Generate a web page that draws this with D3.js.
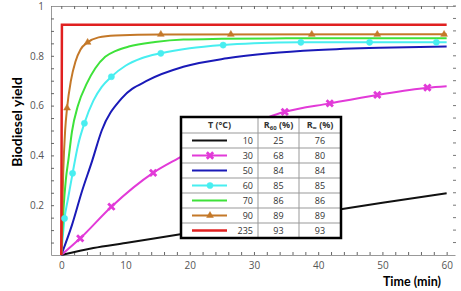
<!DOCTYPE html>
<html>
<head>
<meta charset="utf-8">
<script src="https://cdn.jsdelivr.net/npm/d3@7"></script>
<style>
  body { margin: 0; background: #fff; }
  svg { display: block; }
  .tick text { font-family: "Open Sans", sans-serif; font-size: 10px; fill: #555; }
  .tbl { font-family: "Open Sans", sans-serif; font-size: 9px; fill: #333; }
</style>
</head>
<body>
<svg id="chart" width="461" height="291"></svg>
<script>
// series: [time (min), yield]
var s10 = [[0,0],[5,0.028],[10,0.048],[20,0.089],[30,0.128],[40,0.17],[50,0.21],[60,0.248]];
var s30 = [[0,0],[2.95,0.067],[7.8,0.194],[14.3,0.33],[18.2,0.388],[21.2,0.43],[28,0.51],[34.8,0.575],[41.8,0.609],[49.2,0.643],[57,0.672],[60,0.678]];
var s50 = [[0,0],[1.66,0.12],[3.2,0.254],[4.77,0.375],[6.3,0.5],[9.4,0.629],[13.6,0.703],[19,0.756],[25.8,0.79],[32.5,0.81],[40,0.823],[49.6,0.832],[60,0.837]];
var s60 = [[0,0],[0.51,0.147],[1,0.22],[1.76,0.328],[2.6,0.44],[3.6,0.529],[5,0.62],[6.3,0.675],[7.8,0.716],[10,0.76],[12.5,0.79],[15.5,0.81],[20,0.83],[25.2,0.843],[30,0.85],[37.3,0.854],[48,0.854],[60,0.854]];
var s70 = [[0,0],[0.36,0.19],[0.7,0.3],[1.14,0.388],[1.66,0.495],[2.6,0.6],[4,0.69],[5.3,0.75],[6.84,0.796],[8.5,0.82],[10.5,0.837],[14.6,0.855],[19,0.865],[25,0.868],[35,0.87],[60,0.87]];
var s90 = [[0,0],[0.3,0.33],[0.6,0.5],[0.9,0.59],[1.5,0.7],[2.2,0.776],[3,0.825],[4.1,0.854],[5.8,0.874],[8.4,0.882],[15.5,0.886],[60,0.887]];
var s235 = [[0,0],[0.1,0.925],[60,0.925]];

// marker positions
var m30 = [[2.95,0.067],[7.8,0.194],[14.3,0.33],[21.2,0.43],[28,0.51],[34.8,0.575],[41.8,0.609],[49.2,0.643],[57,0.672]];
var m60 = [[0.51,0.147],[1.76,0.328],[3.6,0.529],[7.8,0.716],[15.5,0.81],[25.2,0.843],[37.3,0.854],[48,0.854],[58.4,0.854]];
var m90 = [[0.9,0.59],[4.1,0.854],[15.5,0.886],[26.4,0.886],[39,0.886],[49.2,0.886],[59.6,0.886]];

// table
var temps = ["10","30","50","60","70","90","235"];
var r60 = ["25","68","84","85","86","89","93"];
var rInf = ["76","80","84","85","86","89","93"];

var colors = {"10":"#111111","30":"#e23ad8","50":"#1a1ab8","60":"#48eef0","70":"#3ee23a","90":"#c47828","235":"#e02020"};
var widths = {"10":2,"30":2,"50":2,"60":2,"70":2,"90":2,"235":2.5};
var seriesBy = {"10":s10,"30":s30,"50":s50,"60":s60,"70":s70,"90":s90,"235":s235};

var svg = d3.select("#chart");

var x = d3.scaleLinear().domain([-1.6, 61.3]).range([51, 455]);
var y = d3.scaleLinear().domain([0, 1]).range([255, 6]);

// axes
var xAxis = d3.axisBottom(x)
    .tickValues(d3.range(0, 61, 2))
    .tickSizeInner(-3).tickSizeOuter(0).tickPadding(7)
    .tickFormat(function(d) { return d % 10 === 0 ? d : ""; });
svg.append("g").attr("transform", "translate(0,255)").call(xAxis);

var yAxis = d3.axisLeft(y)
    .tickValues(d3.range(1, 21).map(function(i) { return i * 0.05; }))
    .tickSizeInner(-3).tickSizeOuter(0).tickPadding(7)
    .tickFormat(function(d) {
        var r = Math.round(d * 100);
        if (r === 100) return "1";
        return r % 20 === 0 ? d3.format(".1f")(d) : "";
    });
svg.append("g").attr("transform", "translate(51,0)").call(yAxis);

var topAxis = d3.axisTop(x)
    .tickValues(d3.range(0, 61, 2))
    .tickSizeInner(-3).tickSizeOuter(0)
    .tickFormat("");
svg.append("g").attr("transform", "translate(0,6)").call(topAxis);

// right side: ticks only
svg.append("g").selectAll("line")
    .data(d3.range(1, 21).map(function(i) { return i * 0.05; }))
    .enter().append("line")
    .attr("x1", 453).attr("x2", 456)
    .attr("y1", function(d) { return y(d); })
    .attr("y2", function(d) { return y(d); })
    .attr("stroke", "#777").attr("stroke-width", 1);

svg.selectAll(".domain").attr("stroke", "#999");
svg.selectAll(".tick line").attr("stroke", "#666");

// curves
var line = d3.line()
    .x(function(d) { return x(d[0]); })
    .y(function(d) { return y(d[1]); })
    .curve(d3.curveMonotoneX);

var order = ["10","30","50","60","70","90","235"];
order.forEach(function(k) {
    svg.append("path")
        .datum(seriesBy[k])
        .attr("fill", "none")
        .attr("stroke", colors[k])
        .attr("stroke-width", widths[k])
        .attr("d", k === "235" ? line.curve(d3.curveLinear)(seriesBy[k]) : line.curve(d3.curveMonotoneX)(seriesBy[k]));
});

var crossSym = d3.symbol().type(d3.symbolX).size(28);
var circSym = d3.symbol().type(d3.symbolCircle).size(30);
var triSym = d3.symbol().type(d3.symbolTriangle).size(20);

function drawMarkers(data, sym, k, stroked) {
    svg.append("g").selectAll("path")
        .data(data).enter().append("path")
        .attr("transform", function(d) { return "translate(" + x(d[0]) + "," + y(d[1]) + ")"; })
        .attr("d", sym())
        .attr("fill", stroked ? "none" : colors[k])
        .attr("stroke", colors[k])
        .attr("stroke-width", stroked ? 2.8 : 0.5);
}
drawMarkers(m30, crossSym, "30", true);
drawMarkers(m60, circSym, "60", false);
drawMarkers(m90, triSym, "90", false);

// axis titles
svg.append("text")
    .attr("transform", "translate(22,122) rotate(-90)")
    .attr("text-anchor", "middle")
    .style("font-family", "Lato, sans-serif")
    .style("font-weight", "bold")
    .style("font-size", "14px")
    .text("Biodiesel yield");

svg.append("text")
    .attr("x", 441).attr("y", 286)
    .attr("text-anchor", "end")
    .style("font-family", "Lato, sans-serif")
    .style("font-weight", "bold")
    .style("font-size", "12.5px")
    .text("Time (min)");

// table legend
var tx0 = 181, tx1 = 341, ty0 = 117, headH = 16, rowH = 15;
var c1 = 258, c2 = 299;
var tbl = svg.append("g");
tbl.append("rect")
    .attr("x", tx0).attr("y", ty0)
    .attr("width", tx1 - tx0).attr("height", headH + rowH * temps.length)
    .attr("fill", "#fff");

// grid lines
for (var i = 0; i < temps.length; i++) {
    var yy = ty0 + headH + rowH * i;
    tbl.append("line").attr("x1", tx0).attr("x2", tx1).attr("y1", yy).attr("y2", yy)
        .attr("stroke", "#999").attr("stroke-width", 1);
}
[c1, c2].forEach(function(cx) {
    tbl.append("line").attr("x1", cx).attr("x2", cx)
        .attr("y1", ty0).attr("y2", ty0 + headH + rowH * temps.length)
        .attr("stroke", "#999").attr("stroke-width", 1);
});
tbl.append("rect")
    .attr("x", tx0).attr("y", ty0)
    .attr("width", tx1 - tx0).attr("height", headH + rowH * temps.length)
    .attr("fill", "none").attr("stroke", "#000").attr("stroke-width", 2.5);

// header
var hy = ty0 + headH / 2 + 3;
tbl.append("text").attr("class", "tbl").attr("x", (tx0 + c1) / 2).attr("y", hy)
    .attr("text-anchor", "middle").style("font-weight", "bold").text("T (°C)");
var h2 = tbl.append("text").attr("class", "tbl").attr("x", (c1 + c2) / 2).attr("y", hy)
    .attr("text-anchor", "middle").style("font-weight", "bold");
h2.append("tspan").text("R");
h2.append("tspan").attr("dy", 2).style("font-size", "6px").text("60");
h2.append("tspan").attr("dy", -2).text(" (%)");
var h3 = tbl.append("text").attr("class", "tbl").attr("x", (c2 + tx1) / 2).attr("y", hy)
    .attr("text-anchor", "middle").style("font-weight", "bold");
h3.append("tspan").text("R");
h3.append("tspan").attr("dy", 2).style("font-size", "6px").text("∞");
h3.append("tspan").attr("dy", -2).text(" (%)");

temps.forEach(function(k, i) {
    var cy = ty0 + headH + rowH * i + rowH / 2;
    tbl.append("line").attr("x1", 192).attr("x2", 227).attr("y1", cy).attr("y2", cy)
        .attr("stroke", colors[k]).attr("stroke-width", widths[k]);
    var sym = k === "30" ? crossSym : k === "60" ? circSym : k === "90" ? triSym : null;
    if (sym) {
        tbl.append("path")
            .attr("transform", "translate(210," + cy + ")")
            .attr("d", sym())
            .attr("fill", k === "30" ? "none" : colors[k])
            .attr("stroke", colors[k])
            .attr("stroke-width", k === "30" ? 2.8 : 0.5);
    }
    tbl.append("text").attr("class", "tbl").attr("x", 253).attr("y", cy + 3.5)
        .attr("text-anchor", "end").text(k);
    tbl.append("text").attr("class", "tbl").attr("x", (c1 + c2) / 2).attr("y", cy + 3.5)
        .attr("text-anchor", "middle").text(r60[i]);
    tbl.append("text").attr("class", "tbl").attr("x", (c2 + tx1) / 2).attr("y", cy + 3.5)
        .attr("text-anchor", "middle").text(rInf[i]);
});
</script>
</body>
</html>
